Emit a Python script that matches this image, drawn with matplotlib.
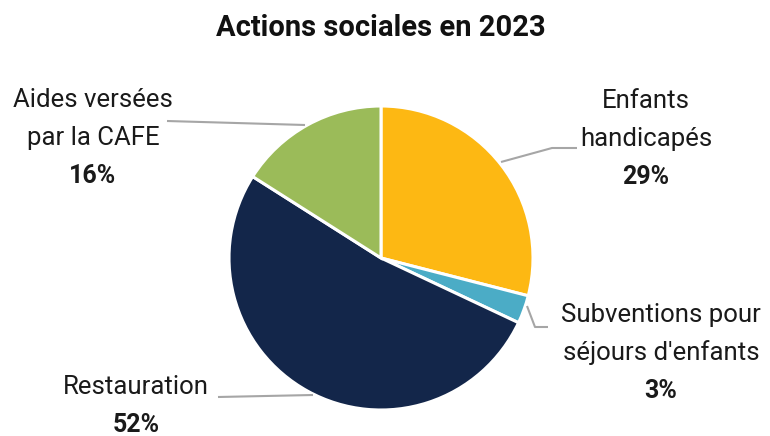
import matplotlib
matplotlib.use("Agg")
import matplotlib.pyplot as plt

plt.rcParams['font.family'] = ['Roboto', 'DejaVu Sans']

title = "Actions sociales en 2023"
categories = ["Enfants\nhandicapés", "Subventions pour\nséjours d'enfants", "Restauration", "Aides versées\npar la CAFE"]
shares = [29, 3, 52, 16]
colors = ["#FDB813", "#4BACC6", "#13264A", "#9BBB59"]

W, H = 770, 436
fig = plt.figure(figsize=(W / 100, H / 100), dpi=100)
ax = fig.add_axes([0, 0, 1, 1])

cx, cy, r = 381, H - 258, 152
ax.pie(shares, colors=colors, startangle=90, counterclock=False,
       center=(cx, cy), radius=r, frame=True,
       wedgeprops=dict(edgecolor='white', linewidth=2.2))
ax.set_xlim(0, W)
ax.set_ylim(0, H)
ax.set_aspect('equal')
ax.axis('off')

def Y(y):
    return H - y

# label blocks: (x centre, y of first line, leader polyline)
layout = [
    (646, 101, [(501, 162), (552, 148), (577, 148)]),
    (661, 315, [(527, 306), (535, 327), (548, 327)]),
    (136, 387, [(218, 397), (313, 395)]),
    (93, 100, [(167, 121), (305, 125)]),
]

lh = 38
for (name, val), (x, y0, pts) in zip(zip(categories, shares), layout):
    lines = name.split("\n")
    for i, line in enumerate(lines):
        ax.text(x, Y(y0 + i * lh), line, ha='center', va='center',
                fontsize=18.5, color='#1a1a1a')
    ax.text(x, Y(y0 + len(lines) * lh), f"{val}%", ha='center', va='center',
            fontsize=18, fontweight='bold', color='#1a1a1a')
    xs = [p[0] for p in pts]
    ys = [Y(p[1]) for p in pts]
    ax.plot(xs, ys, color='#a6a6a6', lw=1.5, solid_capstyle='butt')

ax.text(381, Y(28), title, ha='center', va='center', fontsize=21,
        fontweight='bold', color='#111111')

fig.savefig("out.png", dpi=100)
